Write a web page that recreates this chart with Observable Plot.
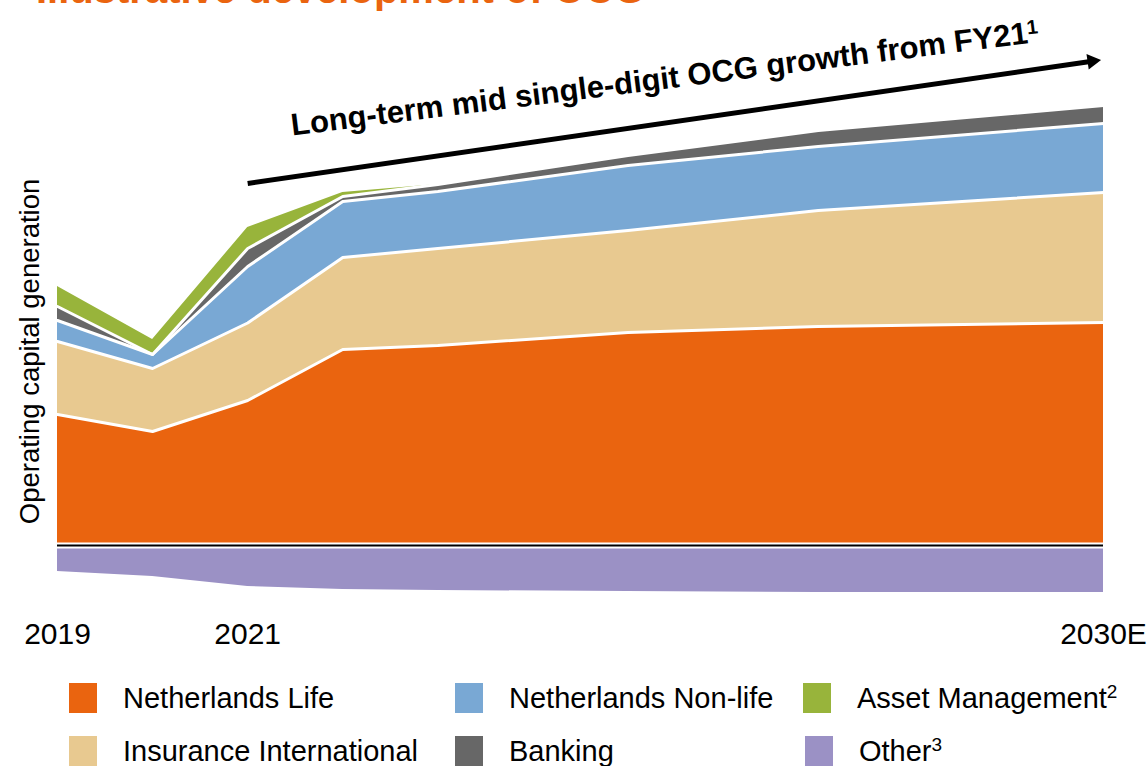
<!DOCTYPE html>
<html>
<head>
<meta charset="utf-8">
<script src="https://cdn.jsdelivr.net/npm/d3@7"></script>
<script src="https://cdn.jsdelivr.net/npm/@observablehq/plot@0.6"></script>
<style>
html, body { margin: 0; padding: 0; background: #fff; }
#wrap { position: relative; width: 1148px; height: 766px; overflow: hidden; font-family: "Liberation Sans", Arial, sans-serif; }
#title { position: absolute; left: 36px; top: -31.5px; font-size: 40px; line-height: 40px; font-weight: bold; color: #EA640F; white-space: nowrap; }
#chart { position: absolute; left: 0; top: 0; }
.lg { position: absolute; display: flex; align-items: center; font-size: 29px; color: #000; white-space: nowrap; height: 30px; }
.sw { width: 28px; height: 30px; margin-right: 26px; flex: none; }
.sup { font-size: 19px; position: relative; top: -10px; }
</style>
</head>
<body>
<div id="wrap">
  <div id="chart"></div>
  <div id="title">Illustrative development of OCG</div>
  <div id="legend"></div>
</div>
<script>
// ---- data ----
const years = [2019, 2020, 2021, 2022, 2023, 2025, 2027, 2030];
const netherlandsLife        = [131, 114, 145,   196, 200, 213, 219, 223];
const insuranceInternational = [73,   63, 77.5,   92,  97, 102, 116, 130];
const netherlandsNonLife     = [21,   14, 56.5,   56,  57,  65,  64,  69];
const banking                = [14,    0, 18,      5,   7,  10,  16,  18];
const assetManagement        = [20,   15, 21,      4,   0,   0,   0,   0];
const other                  = [-26, -31, -41,   -44, -45, -46, -47, -47];

const seriesNames  = ["Netherlands Life", "Insurance International", "Netherlands Non-life", "Banking", "Asset Management", "Other"];
const seriesColors = ["#EA640F", "#E8C990", "#79A8D4", "#676767", "#98B43B", "#9B91C5"];
const seriesValues = [netherlandsLife, insuranceInternational, netherlandsNonLife, banking, assetManagement, other];

const xTicks = [2019, 2021, 2030];
const xTickLabels = ["2019", "2021", "2030E"];
const yLabel = "Operating capital generation";

const annotationText = "Long-term mid single-digit OCG growth from FY21";
const annotationSup = "1";
const annotationAt = [{x: 2021.47, y: 410, label: annotationText}];
const annotationSupAt = [{x: 2029.2, y: 511, label: annotationSup}];
const arrowLine = [{x1: 2021, y1: 362, x2: 2029.88, y2: 484.3}];
const yLabelAt = [{x: 2019, y: 194, label: yLabel}];

const legendOrder = [
  ["Netherlands Life", ""], ["Netherlands Non-life", ""], ["Asset Management", "2"],
  ["Insurance International", ""], ["Banking", ""], ["Other", "3"]
];

// ---- tidy table ----
const table = [];
seriesNames.forEach((s, si) => years.forEach((yr, i) => table.push({series: s, year: yr, value: seriesValues[si][i]})));
const positive = table.filter(d => d.series !== "Other" && d.series !== "Asset Management");

const font = '"Liberation Sans", Arial, sans-serif';

const chart = Plot.plot({
  width: 1148,
  height: 660,
  marginLeft: 57,
  marginRight: 45,
  marginTop: 0,
  marginBottom: 40,
  x: {domain: [2019, 2030], axis: null},
  y: {domain: [-75, 545], axis: null},
  color: {domain: seriesNames, range: seriesColors},
  style: {fontFamily: font, background: "white", overflow: "visible", color: "#000"},
  marks: [
    Plot.areaY(table, {x: "year", y: "value", z: "series", fill: "series", curve: "linear"}),
    Plot.lineY(positive, Plot.stackY2({x: "year", y: "value", z: "series", stroke: "white", strokeWidth: 3, curve: "linear"})),
    Plot.ruleY([0], {stroke: "white", strokeWidth: 6}),
    Plot.ruleY([0], {stroke: "black", strokeWidth: 2.2}),
    Plot.axisX(xTicks, {tickSize: 0, tickPadding: 2, fontSize: 30, label: null,
      tickFormat: d => xTickLabels[xTicks.indexOf(d)]}),
    Plot.text(yLabelAt, {x: "x", y: "y", text: "label", dx: -27, rotate: -90, textAnchor: "middle", lineAnchor: "middle", fontSize: 27.5, fill: "black"}),
    Plot.link(arrowLine, {x1: "x1", y1: "y1", x2: "x2", y2: "y2", stroke: "black", strokeWidth: 5}),
    Plot.dot(arrowLine, {x: "x2", y: "y2", symbol: "triangle2", r: 7.5, fill: "black", stroke: "none", rotate: 81.8}),
    Plot.text(annotationAt, {x: "x", y: "y", text: "label", rotate: -7.15, textAnchor: "start", lineAnchor: "bottom", fontSize: 31, fontWeight: "bold", fill: "black"}),
    Plot.text(annotationSupAt, {x: "x", y: "y", text: "label", rotate: -7.15, textAnchor: "start", lineAnchor: "bottom", fontSize: 20, fontWeight: "bold", fill: "black"})
  ]
});
document.getElementById("chart").appendChild(chart);

// ---- legend ----
const colLeft = [69, 455, 803];
const rowTop = [683, 736];
const legend = document.getElementById("legend");
legendOrder.forEach(([name, sup], i) => {
  const item = document.createElement("div");
  item.className = "lg";
  item.style.left = (colLeft[i % 3] + (name === "Other" ? 2 : 0)) + "px";
  item.style.top = rowTop[Math.floor(i / 3)] + "px";
  const sw = document.createElement("div");
  sw.className = "sw";
  sw.style.background = seriesColors[seriesNames.indexOf(name)];
  const tx = document.createElement("span");
  tx.textContent = name;
  if (sup) { const s = document.createElement("span"); s.className = "sup"; s.textContent = sup; tx.appendChild(s); }
  item.appendChild(sw); item.appendChild(tx);
  legend.appendChild(item);
});
</script>
</body>
</html>
